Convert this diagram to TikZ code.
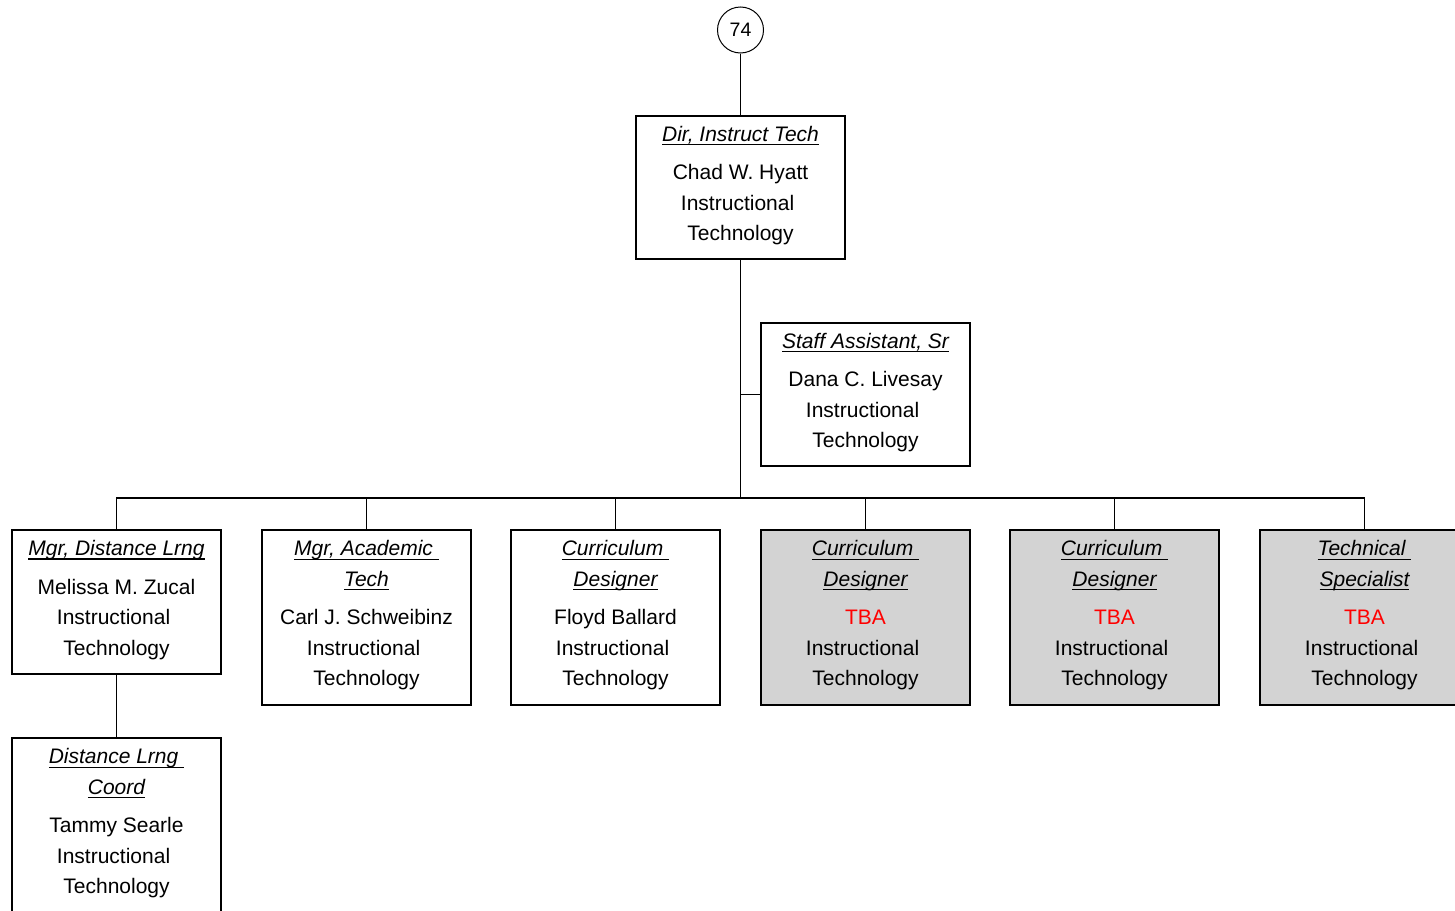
\documentclass[tikz,border=0pt]{standalone}
\usepackage{fontspec}
\setmainfont{Liberation Sans}
\definecolor{vacgray}{HTML}{D3D3D3}
\newsavebox\ttlbox
\newcommand\ttl[1]{\sbox\ttlbox{\itshape #1}\rlap{\rule[-4pt]{\wd\ttlbox}{1.3pt}}\usebox\ttlbox}
\newcommand\tsp{\kern0.278em}
\newcommand\tba{\textcolor{red}{TBA}}
\newcommand\tail{\rule[-8.6pt]{0pt}{8.6pt}}
\tikzset{
  box/.style={draw, line width=1.2pt, minimum width=209pt, align=center, inner sep=0pt,
    font=\fontsize{21}{30.5}\selectfont},
  vacant/.style={box, fill=vacgray},
  link/.style={line width=1.2pt},
}
\begin{document}
\begin{tikzpicture}[x=1pt,y=-1pt]
\useasboundingbox (0,0) rectangle (1455,910);
\clip (0,0) rectangle (1455,910);
\node[draw, circle, line width=1pt, minimum size=46pt, inner sep=0pt, font=\fontsize{19.5}{22}\selectfont] (top) at (740.5,30) {74};
\node[box, minimum height=143pt] (dir) at (740.5,187.5) {\ttl{Dir, Instruct Tech}\\[8pt]Chad W. Hyatt\\Instructional\tsp\\Technology\tail};
\node[box, minimum height=143pt] (staff) at (865.5,394.5) {\ttl{Staff Assistant, Sr}\\[8pt]Dana C. Livesay\\Instructional\tsp\\Technology\tail};
\node[box, minimum height=144pt] (b1) at (116.5,602) {\ttl{Mgr, Distance Lrng}\\[8pt]Melissa M. Zucal\\Instructional\tsp\\Technology\tail};
\node[box, minimum height=175pt] (b2) at (366.5,617.5) {\ttl{Mgr, Academic\ }\\\ttl{Tech}\\[8pt]Carl J. Schweibinz\\Instructional\tsp\\Technology\tail};
\node[box, minimum height=175pt] (b3) at (615.5,617.5) {\ttl{Curriculum\ }\\\ttl{Designer}\\[8pt]Floyd Ballard\\Instructional\tsp\\Technology\tail};
\node[vacant, minimum height=175pt] (b4) at (865.5,617.5) {\ttl{Curriculum\ }\\\ttl{Designer}\\[8pt]\tba\\Instructional\tsp\\Technology\tail};
\node[vacant, minimum height=175pt] (b5) at (1114.5,617.5) {\ttl{Curriculum\ }\\\ttl{Designer}\\[8pt]\tba\\Instructional\tsp\\Technology\tail};
\node[vacant, minimum height=175pt] (b6) at (1364.5,617.5) {\ttl{Technical\ }\\\ttl{Specialist}\\[8pt]\tba\\Instructional\tsp\\Technology\tail};
\node[box, minimum height=175pt] (coord) at (116.5,825.5) {\ttl{Distance Lrng\ }\\\ttl{Coord}\\[8pt]Tammy Searle\\Instructional\tsp\\Technology\tail};
\coordinate (bus) at (740.5,498);
\draw[link] (top) -- (dir);
\draw[link] (dir.south) -- (bus);
\draw[link] (dir.south |- staff.west) -- (staff.west);
\foreach \b in {b1,b2,b3,b4,b5,b6}{\draw[link] (bus) -| (\b.north);}
\draw[link] (b1.south) -- (coord.north);
\end{tikzpicture}
\end{document}
